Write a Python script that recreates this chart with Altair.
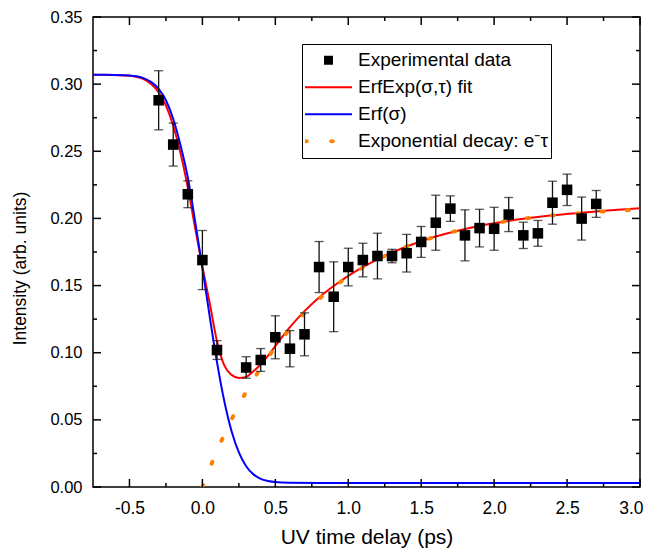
import altair as alt
import pandas as pd

# ---------------- data ----------------
X_DOMAIN = [-0.75, 3.0]
Y_DOMAIN = [0.0, 0.35]
X_MAJOR = [-0.5, 0.0, 0.5, 1.0, 1.5, 2.0, 2.5, 3.0]
X_MINOR = [-0.25, 0.25, 0.75, 1.25, 1.75, 2.25, 2.75]
Y_MAJOR = [0.0, 0.05, 0.10, 0.15, 0.20, 0.25, 0.30, 0.35]
Y_MINOR = [0.025, 0.075, 0.125, 0.175, 0.225, 0.275, 0.325]

T_DATA = [-0.3, -0.2, -0.1, 0.0, 0.1, 0.3, 0.4, 0.5, 0.6, 0.7, 0.8, 0.9, 1.0,
          1.1, 1.2, 1.3, 1.4, 1.5, 1.6, 1.7, 1.8, 1.9, 2.0, 2.1, 2.2, 2.3,
          2.4, 2.5, 2.6, 2.7]
I_DATA = [0.288, 0.255, 0.218, 0.169, 0.102, 0.089, 0.0946, 0.1115, 0.103,
          0.1137, 0.1638, 0.1417, 0.1638, 0.169, 0.172, 0.172, 0.1741, 0.1825,
          0.1968, 0.2073, 0.1874, 0.1928, 0.1923, 0.2029, 0.1874, 0.1889,
          0.2117, 0.2213, 0.1999, 0.2108]
ERR = [0.022, 0.016, 0.010, 0.022, 0.007, 0.008, 0.0085, 0.016, 0.0135,
       0.016, 0.019, 0.026, 0.014, 0.0125, 0.017, 0.005, 0.014, 0.0115,
       0.0205, 0.0095, 0.019, 0.014, 0.016, 0.0127, 0.0098, 0.0096, 0.016,
       0.0117, 0.016, 0.010]

BLUE_T = [-0.75, -0.6, -0.5, -0.45, -0.4, -0.35, -0.3, -0.25, -0.2, -0.15,
          -0.1, -0.05, 0.0, 0.05, 0.1, 0.15, 0.2, 0.25, 0.3, 0.35, 0.4, 0.45,
          0.5, 0.6, 0.8, 1.0, 1.5, 2.0, 2.5, 3.0]
BLUE_I = [0.3070, 0.3069, 0.3065, 0.3058, 0.3043, 0.3015, 0.2965, 0.2880,
          0.2740, 0.2545, 0.2305, 0.1980, 0.1630, 0.1270, 0.0930, 0.0640,
          0.0415, 0.0258, 0.0155, 0.0094, 0.0060, 0.0045, 0.0037, 0.0032,
          0.0030, 0.0030, 0.0030, 0.0030, 0.0030, 0.0030]

RED_T = [-0.75, -0.6, -0.5, -0.4, -0.35, -0.3, -0.25, -0.2, -0.15, -0.1,
         -0.05, 0.0, 0.05, 0.1, 0.15, 0.2, 0.25, 0.3, 0.35, 0.4, 0.45, 0.5,
         0.6, 0.7, 0.8, 0.9, 1.0, 1.2, 1.4, 1.6, 1.8, 2.0, 2.2, 2.4, 2.6,
         2.8, 3.0]
RED_I = [0.3070, 0.3068, 0.3062, 0.3035, 0.3000, 0.2940, 0.2840, 0.2690,
         0.2485, 0.2230, 0.1930, 0.1640, 0.1370, 0.1085, 0.0905, 0.0835,
         0.0812, 0.0820, 0.0862, 0.0912, 0.0978, 0.1050, 0.1190, 0.1310,
         0.1412, 0.1497, 0.1572, 0.1695, 0.1791, 0.1865, 0.1922, 0.1964,
         0.1998, 0.2024, 0.2043, 0.2060, 0.2075]

ORANGE_T = [0.0, 0.05, 0.1, 0.15, 0.2, 0.25, 0.3, 0.35, 0.4, 0.45, 0.5, 0.6,
            0.7, 0.8, 0.9, 1.0, 1.2, 1.4, 1.6, 1.8, 2.0, 2.2, 2.4, 2.6, 2.8,
            3.0]
ORANGE_I = [0.0, 0.0139, 0.0269, 0.0390, 0.0503, 0.0609, 0.0708, 0.0799,
            0.0886, 0.0966, 0.1040, 0.1177, 0.1295, 0.1400, 0.1488, 0.1567,
            0.1694, 0.1791, 0.1865, 0.1922, 0.1964, 0.1997, 0.2022, 0.2040,
            0.2055, 0.2066]

SERIES = ["Experimental data", "ErfExp(\u03c3,\u03c4) fit", "Erf(\u03c3)",
          "Exponential decay: e\u207b\u03c4"]
COLORS = ["#000000", "#ff0000", "#0000ff", "#ff8000"]

X_TITLE = "UV time delay (ps)"
Y_TITLE = "Intensity (arb. units)"

# ---------------- tables ----------------
df_pts = pd.DataFrame({"t": T_DATA, "i": I_DATA, "e": ERR})
df_pts["lo"] = df_pts["i"] - df_pts["e"]
df_pts["hi"] = df_pts["i"] + df_pts["e"]
df_pts["series"] = SERIES[0]
df_blue = pd.DataFrame({"t": BLUE_T, "i": BLUE_I})
df_red = pd.DataFrame({"t": RED_T, "i": RED_I})
df_orange = pd.DataFrame({"t": ORANGE_T, "i": ORANGE_I})
df_xmaj = pd.DataFrame({"v": X_MAJOR})
df_xmin = pd.DataFrame({"v": X_MINOR})
df_ymaj = pd.DataFrame({"v": Y_MAJOR})
df_ymin = pd.DataFrame({"v": Y_MINOR})

W, H = 547, 470
FONT = "Liberation Sans"
xs = alt.Scale(domain=X_DOMAIN, nice=False, zero=False)
ys = alt.Scale(domain=Y_DOMAIN, nice=False, zero=False)

SHAPES = [
    "M-0.19,-0.19H0.19V0.19H-0.19Z",
    "M-1,-0.045H1V0.045H-1Z",
    "M-1,-0.045H1V0.045H-1Z",
    "M-1.077,0A0.12,0.085,0,1,0,-0.837,0A0.12,0.085,0,1,0,-1.077,0Z"
    "M0.029,0A0.12,0.085,0,1,0,0.269,0A0.12,0.085,0,1,0,0.029,0Z",
]

x_main = alt.Axis(
    orient="bottom", values=X_MAJOR, ticks=False, tickSize=0, domain=False,
    grid=False,
    labelExpr="replace(format(datum.value, '.1f'), '\u2212', '-')",
    labelFont=FONT, labelFontSize=17.5, labelColor="black", labelPadding=12,
    labelFlush=True, labelFlushOffset=3, labelOverlap=False,
    title=X_TITLE, titleFont=FONT, titleFontSize=21, titleFontWeight="normal",
    titleColor="black", titlePadding=10)
y_main = alt.Axis(
    orient="left", values=Y_MAJOR, ticks=False, tickSize=0, domain=False,
    grid=False,
    labelExpr="format(datum.value, '.2f')",
    labelFont=FONT, labelFontSize=16.5, labelColor="black", labelPadding=11,
    labelFlush=False, labelOverlap=False,
    title=Y_TITLE, titleFont=FONT, titleFontSize=17.5, titleFontWeight="normal",
    titleColor="black", titleX=-73, titleY=251, titleBaseline="middle")

red = alt.Chart(df_red).mark_line(
    color="#ff0000", strokeWidth=2, interpolate="monotone", clip=True
).encode(
    x=alt.X("t:Q", scale=xs, axis=x_main),
    y=alt.Y("i:Q", scale=ys, axis=y_main),
)

blue = alt.Chart(df_blue).mark_line(
    color="#0000ff", strokeWidth=2, interpolate="monotone", clip=True
).encode(
    x=alt.X("t:Q", scale=xs),
    y=alt.Y("i:Q", scale=ys),
)

orange = alt.Chart(df_orange).mark_line(
    color="#ff8000", strokeWidth=4, strokeDash=[2, 23], strokeCap="round",
    interpolate="monotone", clip=True
).encode(
    x=alt.X("t:Q", scale=xs),
    y=alt.Y("i:Q", scale=ys),
)

err_rule = alt.Chart(df_pts).mark_rule(color="#111111", strokeWidth=1.3).encode(
    x=alt.X("t:Q", scale=xs),
    y=alt.Y("lo:Q", scale=ys),
    y2="hi:Q",
)
cap_lo = alt.Chart(df_pts).mark_tick(
    color="#111111", orient="horizontal", size=9, thickness=1.3
).encode(
    x=alt.X("t:Q", scale=xs),
    y=alt.Y("lo:Q", scale=ys),
)
cap_hi = alt.Chart(df_pts).mark_tick(
    color="#111111", orient="horizontal", size=9, thickness=1.3
).encode(
    x=alt.X("t:Q", scale=xs),
    y=alt.Y("hi:Q", scale=ys),
)

legend = alt.Legend(
    title=None, orient="none", legendX=209, legendY=27,
    fillColor="white", strokeColor="black", padding=3,
    symbolSize=2209, symbolStrokeWidth=0, symbolOpacity=1,
    clipHeight=26.5, rowPadding=0,
    labelFont=FONT, labelFontSize=19, labelColor="black",
    labelOffset=6, labelLimit=400,
)

pts = alt.Chart(df_pts).mark_point(
    filled=True, opacity=1, strokeWidth=0, size=3086
).encode(
    x=alt.X("t:Q", scale=xs),
    y=alt.Y("i:Q", scale=ys),
    color=alt.Color("series:N", scale=alt.Scale(domain=SERIES, range=COLORS),
                    legend=legend),
    shape=alt.Shape("series:N", scale=alt.Scale(domain=SERIES, range=SHAPES),
                    legend=legend),
)


# inward tick marks on all four sides, drawn from the tick arrays
def xticks(df, length, top):
    y0, y1 = (0, length) if top else (H - length, H)
    return alt.Chart(df).mark_rule(color="black", strokeWidth=1.5).encode(
        x=alt.X("v:Q", scale=xs), y=alt.value(y0), y2=alt.value(y1))


def yticks(df, length, right):
    x0, x1 = (W - length, W) if right else (0, length)
    return alt.Chart(df).mark_rule(color="black", strokeWidth=1.5).encode(
        y=alt.Y("v:Q", scale=ys), x=alt.value(x0), x2=alt.value(x1))


ticks = [
    xticks(df_xmaj, 8, False), xticks(df_xmaj, 8, True),
    xticks(df_xmin, 4, False), xticks(df_xmin, 4, True),
    yticks(df_ymaj, 8, False), yticks(df_ymaj, 8, True),
    yticks(df_ymin, 4, False), yticks(df_ymin, 4, True),
]

chart = alt.layer(red, blue, orange, err_rule, cap_lo, cap_hi, pts, *ticks).properties(
    width=W, height=H,
    padding={"left": 85, "top": 9, "right": 4, "bottom": 62},
    autosize=alt.AutoSizeParams(type="none"),
).configure_view(
    stroke="black", strokeWidth=1.5
).configure_legend(
    strokeWidth=1
)

chart.save("out.html", embed_options={"renderer": "svg", "actions": False})
